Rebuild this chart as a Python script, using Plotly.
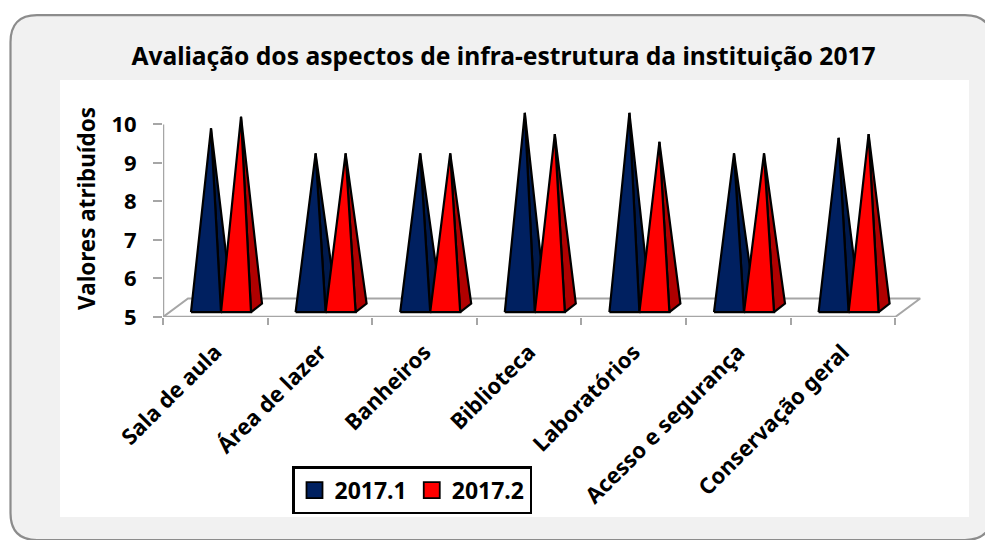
import plotly.graph_objects as go

categories = ["Sala de aula", "Área de lazer", "Banheiros", "Biblioteca",
              "Laboratórios", "Acesso e segurança", "Conservação geral"]
serie_2017_1 = [9.9, 9.25, 9.25, 10.3, 10.3, 9.25, 9.65]
serie_2017_2 = [10.2, 9.25, 9.25, 9.75, 9.55, 9.25, 9.75]
y_ticks = [5, 6, 7, 8, 9, 10]

W, H = 985, 540
L, R, T, B = 163, 922, 100, 317.5
PX_X = 104.6
PX_Y = 38.6
x_max = (R - L) / PX_X
y_max = 5 + (B - T) / PX_Y
FONT = "Noto Sans"

def dx(px): return px / PX_X
def dy(px): return px / PX_Y
def paper_x(p): return (p - L) / (R - L)
def paper_y(p): return (B - p) / (B - T)

fig = go.Figure()

n = len(categories)
fd_x, fd_y = dx(25), dy(18.5)
axis_gray = "#a6a6a6"
fig.add_trace(go.Scatter(x=[0, fd_x, n + fd_x, n], y=[5, 5 + fd_y, 5 + fd_y, 5], mode="lines",
                         line=dict(color=axis_gray, width=2), showlegend=False, hoverinfo="skip"))
fig.add_trace(go.Scatter(x=[0, n], y=[5, 5], mode="lines",
                         line=dict(color=axis_gray, width=2.5), showlegend=False, hoverinfo="skip"))
fig.add_trace(go.Scatter(x=[0, 0], y=[y_ticks[0], y_ticks[-1]], mode="lines",
                         line=dict(color=axis_gray, width=2.5), showlegend=False, hoverinfo="skip"))

base_y = 5 + dy(4.8)
width = dx(30)
side_x, side_y = dx(11), dy(8.7)
apex_x = dx(5)

def pyramid(left, value, front, side):
    right = left + width
    fig.add_trace(go.Scatter(
        x=[right, right + side_x, left + width / 2 + apex_x, right],
        y=[base_y, base_y + side_y, value, base_y],
        mode="lines", fill="toself", fillcolor=side,
        line=dict(color="black", width=2.2), showlegend=False, hoverinfo="skip"))
    fig.add_trace(go.Scatter(
        x=[left, right, left + width / 2 + apex_x, left],
        y=[base_y, base_y, value, base_y],
        mode="lines", fill="toself", fillcolor=front,
        line=dict(color="black", width=2.2), showlegend=False, hoverinfo="skip"))

for i in range(n):
    pyramid(i + dx(28), serie_2017_1[i], "#002060", "#001a4d")
for i in range(n):
    pyramid(i + dx(28) + width, serie_2017_2[i], "#ff0000", "#b00000")

for name, color in (("<b>2017.1</b>", "#002060"), ("<b>2017.2</b>", "#ff0000")):
    fig.add_trace(go.Scatter(x=[None], y=[None], mode="markers", name=name,
                             marker=dict(symbol="square", size=16, color=color,
                                         line=dict(color="black", width=1.8))))

shapes = [
    dict(type="path", layer="below", xref="paper", yref="paper",
         path=("M {a},{b} L {a},{c} Q {a},{d} {e},{d} L {f},{d} Q {g},{d} {g},{c} "
               "L {g},{h} Q {g},{i} {f},{i} L {e},{i} Q {a},{i} {a},{h} Z").format(
             a=paper_x(10.5), b=paper_y(300), c=paper_y(42), d=paper_y(15), e=paper_x(37),
             f=paper_x(965), g=paper_x(992), h=paper_y(514), i=paper_y(541)),
         fillcolor="#f1f1f1", line=dict(color="#8c8c8c", width=2.2)),
    dict(type="rect", layer="below", xref="paper", yref="paper",
         x0=paper_x(60), x1=paper_x(969), y0=paper_y(518), y1=paper_y(80),
         fillcolor="white", line=dict(width=0)),
]

fig.update_layout(
    width=W, height=H, autosize=False,
    margin=dict(l=L, r=W - R, t=T, b=H - B, pad=0),
    paper_bgcolor="white", plot_bgcolor="rgba(0,0,0,0)",
    font=dict(family=FONT, color="black"),
    shapes=shapes,
    title=dict(text="<b>Avaliação dos aspectos de infra-estrutura da instituição 2017</b>",
               font=dict(size=24.6, family=FONT, color="black"),
               x=503.5 / W, xanchor="center", y=1 - 56 / H, yanchor="middle"),
    xaxis=dict(range=[0, x_max], showgrid=False, zeroline=False, showline=False,
               tickmode="array", tickvals=[i + 0.5 for i in range(n)],
               ticktext=["<b>%s</b>" % c for c in categories], tickangle=-45,
               ticks="", ticklabelstandoff=17,
               tickfont=dict(size=22, family=FONT, color="black"),
               minor=dict(tickmode="array", tickvals=list(range(n + 1)), ticks="outside",
                          ticklen=7, tickcolor=axis_gray, tickwidth=2, showgrid=False)),
    yaxis=dict(range=[5, y_max], showgrid=False, zeroline=False, showline=False,
               tickmode="array", tickvals=y_ticks, ticktext=["<b>%d</b>" % v for v in y_ticks],
               ticks="outside", ticklen=9, tickcolor=axis_gray, tickwidth=2,
               ticklabelstandoff=12,
               tickfont=dict(size=22, family=FONT, color="black"),
               title=dict(text="<b>Valores atribuídos</b>", font=dict(size=22.4, family=FONT, color="black"),
                          standoff=9)),
    showlegend=True,
    legend=dict(orientation="h", x=paper_x(292), y=paper_y(467), xanchor="left", yanchor="top",
                bgcolor="white", bordercolor="black", borderwidth=2.5,
                font=dict(size=23, family=FONT, color="black"), itemsizing="trace",
                itemwidth=30, tracegroupgap=0),
)

fig.write_html("out.html", config={"displayModeBar": False},
               post_script="document.body.style.margin='0';document.body.style.overflow='hidden';")
